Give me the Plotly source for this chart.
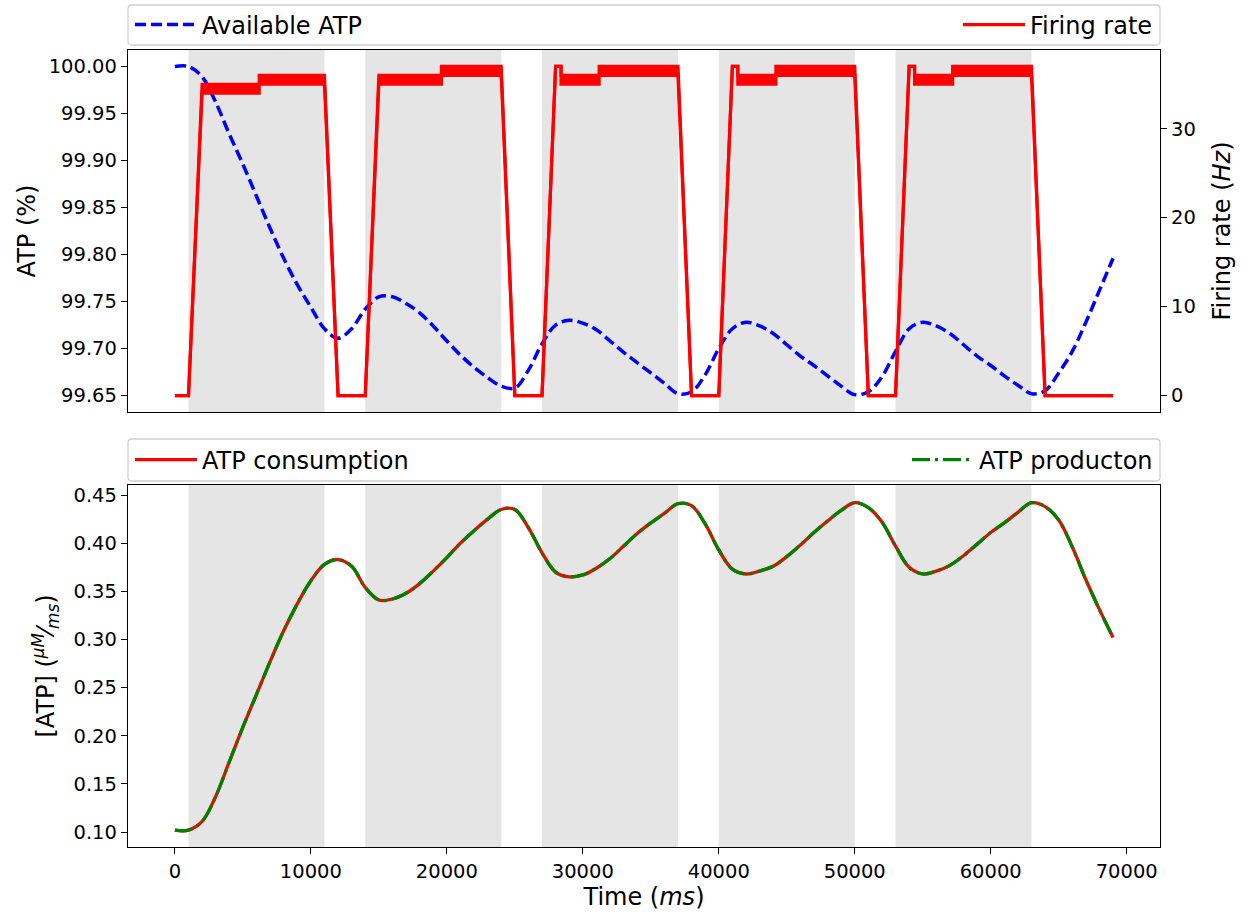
import plotly.graph_objects as go

# ---------------- data ----------------
time_ms = [0, 1000, 2000, 3000, 4000, 5000, 6000, 7000, 8000, 9000,
           10000, 11000, 12000, 13000, 14000, 15000, 16000, 17000, 18000, 19000,
           20000, 21000, 22000, 23000, 24000, 25000, 26000, 27000, 28000, 29000,
           30000, 31000, 32000, 33000, 34000, 35000, 36000, 37000, 38000, 39000,
           40000, 41000, 42000, 43000, 44000, 45000, 46000, 47000, 48000, 49000,
           50000, 51000, 52000, 53000, 54000, 55000, 56000, 57000, 58000, 59000,
           60000, 61000, 62000, 63000, 64000, 65000, 66000, 67000, 68000, 69000]

available_atp = [100.000, 100.000, 99.989, 99.962, 99.928, 99.896, 99.862, 99.828, 99.796, 99.768,
                 99.744, 99.721, 99.711, 99.721, 99.742, 99.755, 99.755, 99.748, 99.738, 99.724,
                 99.708, 99.693, 99.680, 99.669, 99.660, 99.658, 99.677, 99.705, 99.725, 99.730,
                 99.727, 99.720, 99.708, 99.696, 99.685, 99.674, 99.663, 99.652, 99.654, 99.672,
                 99.700, 99.721, 99.728, 99.724, 99.716, 99.704, 99.692, 99.682, 99.671, 99.660,
                 99.651, 99.654, 99.670, 99.697, 99.721, 99.728, 99.724, 99.716, 99.704, 99.692,
                 99.682, 99.671, 99.661, 99.652, 99.655, 99.674, 99.697, 99.728, 99.762, 99.796]

atp_consumption = [0.102, 0.102, 0.111, 0.137, 0.173, 0.209, 0.243, 0.277, 0.309, 0.337,
                   0.361, 0.378, 0.383, 0.376, 0.354, 0.341, 0.342, 0.348, 0.358, 0.371,
                   0.385, 0.400, 0.413, 0.425, 0.435, 0.435, 0.416, 0.390, 0.370, 0.365,
                   0.367, 0.374, 0.384, 0.397, 0.410, 0.421, 0.431, 0.441, 0.439, 0.420,
                   0.393, 0.373, 0.368, 0.371, 0.376, 0.386, 0.398, 0.411, 0.423, 0.434,
                   0.442, 0.437, 0.422, 0.397, 0.375, 0.368, 0.371, 0.377, 0.387, 0.399,
                   0.411, 0.421, 0.432, 0.442, 0.438, 0.424, 0.396, 0.362, 0.331, 0.302]

atp_production = [0.102, 0.102, 0.111, 0.137, 0.173, 0.209, 0.243, 0.277, 0.309, 0.337,
                  0.361, 0.378, 0.383, 0.376, 0.354, 0.341, 0.342, 0.348, 0.358, 0.371,
                  0.385, 0.400, 0.413, 0.425, 0.435, 0.435, 0.416, 0.390, 0.370, 0.365,
                  0.367, 0.374, 0.384, 0.397, 0.410, 0.421, 0.431, 0.441, 0.439, 0.420,
                  0.393, 0.373, 0.368, 0.371, 0.376, 0.386, 0.398, 0.411, 0.423, 0.434,
                  0.442, 0.437, 0.422, 0.397, 0.375, 0.368, 0.371, 0.377, 0.387, 0.399,
                  0.411, 0.421, 0.432, 0.442, 0.438, 0.424, 0.396, 0.362, 0.331, 0.302]

# firing rate: at each point the rate flickers between a low and a high value
fr_time = [0, 1000, 2000, 6200, 6200, 11000, 12000, 14000, 15000, 19600, 19600, 24000, 25000,
           27000, 28000, 28400, 28400, 31200, 31200, 37000, 38000,
           40000, 41000, 41400, 41400, 44200, 44200, 50000, 51000,
           53000, 54000, 54400, 54400, 57200, 57200, 63000, 64000, 69000]
fr_low = [0, 0, 34, 34, 35, 35, 0, 0, 35, 35, 36, 36, 0,
          0, 37, 37, 35, 35, 36, 36, 0,
          0, 37, 37, 35, 35, 36, 36, 0,
          0, 37, 37, 35, 35, 36, 36, 0, 0]
fr_high = [0, 0, 35, 35, 36, 36, 0, 0, 36, 36, 37, 37, 0,
           0, 37, 37, 36, 36, 37, 37, 0,
           0, 37, 37, 36, 36, 37, 37, 0,
           0, 37, 37, 36, 36, 37, 37, 0, 0]

stim_start = [1000, 14000, 27000, 40000, 53000]
stim_end = [11000, 24000, 37000, 50000, 63000]

x_ticks = [0, 10000, 20000, 30000, 40000, 50000, 60000, 70000]
atp_ticks = [99.65, 99.70, 99.75, 99.80, 99.85, 99.90, 99.95, 100.00]
fr_ticks = [0, 10, 20, 30]
flux_ticks = [0.10, 0.15, 0.20, 0.25, 0.30, 0.35, 0.40, 0.45]

# ---------------- styling / layout ----------------
FONT = "DejaVu Sans"
W, H = 1253, 916
L, R, T, B = 128, 1160, 50, 847          # plot area in pixels
pw, ph = R - L, B - T

def py2paper(y):
    return (B - y) / ph

def px2paper(x):
    return (x - L) / pw

top_dom = [py2paper(412), 1.0]
bot_dom = [0.0, py2paper(485)]

fig = go.Figure()

fig.add_trace(go.Scatter(x=time_ms, y=available_atp, xaxis="x", yaxis="y",
                         mode="lines", name="Available ATP", legend="legend",
                         line=dict(color="blue", width=3.5, dash="11px,5px",
                                   shape="spline", smoothing=1.0)))
fig.add_trace(go.Scatter(x=fr_time, y=fr_low, xaxis="x", yaxis="y2",
                         mode="lines", name="Firing rate", legend="legend2",
                         line=dict(color="red", width=3.2)))
fig.add_trace(go.Scatter(x=fr_time, y=fr_high, xaxis="x", yaxis="y2",
                         mode="lines", showlegend=False, hoverinfo="skip",
                         fill="tonexty", fillcolor="red",
                         line=dict(color="red", width=3.2)))

fig.add_trace(go.Scatter(x=time_ms, y=atp_consumption, xaxis="x2", yaxis="y3",
                         mode="lines", name="ATP consumption", legend="legend3",
                         line=dict(color="red", width=3.3, shape="spline", smoothing=1.0)))
fig.add_trace(go.Scatter(x=time_ms, y=atp_production, xaxis="x2", yaxis="y3",
                         mode="lines", name="ATP producton", legend="legend4",
                         line=dict(color="green", width=3.3, dash="18px,5px,3px,5px",
                                   shape="spline", smoothing=1.0)))

shapes = []
for s, e in zip(stim_start, stim_end):
    shapes.append(dict(type="rect", xref="x", yref="y domain", x0=s, x1=e, y0=0, y1=1,
                       fillcolor="#e5e5e5", line=dict(width=0), layer="below"))
    shapes.append(dict(type="rect", xref="x2", yref="y3 domain", x0=s, x1=e, y0=0, y1=1,
                       fillcolor="#e5e5e5", line=dict(width=0), layer="below"))

def rounded_box(x0p, x1p, y0p, y1p, r=4):
    # pixel coordinates -> paper path with rounded corners
    X0, X1 = px2paper(x0p), px2paper(x1p)
    Y0, Y1 = py2paper(y1p), py2paper(y0p)
    rx, ry = r / pw, r / ph
    return (f"M{X0+rx},{Y1} L{X1-rx},{Y1} Q{X1},{Y1} {X1},{Y1-ry} "
            f"L{X1},{Y0+ry} Q{X1},{Y0} {X1-rx},{Y0} L{X0+rx},{Y0} "
            f"Q{X0},{Y0} {X0},{Y0+ry} L{X0},{Y1-ry} Q{X0},{Y1} {X0+rx},{Y1} Z")

for (y0p, y1p) in [(5, 45), (439, 481)]:
    shapes.append(dict(type="path", xref="paper", yref="paper",
                       path=rounded_box(L, R, y0p, y1p),
                       fillcolor="rgba(255,255,255,0.8)",
                       line=dict(color="#d0d0d0", width=1.3), layer="above"))

tickfont = dict(family=FONT, size=19.5, color="black")
titlefont = dict(family=FONT, size=24, color="black")
axis_common = dict(showline=True, linecolor="black", linewidth=1.3,
                   ticks="outside", ticklen=6, tickwidth=1.3, tickcolor="black",
                   showgrid=False, zeroline=False, tickfont=tickfont)

xr = [-3450, 72450]

legend_common = dict(bgcolor="rgba(0,0,0,0)", borderwidth=0,
                     font=dict(family=FONT, size=24, color="black"),
                     orientation="h", yanchor="middle", itemwidth=62)

fig.update_layout(
    width=W, height=H,
    margin=dict(l=L, r=W - R, t=T, b=H - B, pad=0, autoexpand=False),
    paper_bgcolor="white", plot_bgcolor="white",
    font=dict(family=FONT, color="black"),
    shapes=shapes,
    xaxis=dict(domain=[0, 1], anchor="y", range=xr, matches="x2",
               showticklabels=False, mirror=True,
               **{k: v for k, v in axis_common.items() if k != "ticks"}, ticks=""),
    yaxis=dict(domain=top_dom, anchor="x", range=[99.6325, 100.0175],
               tickvals=atp_ticks, tickformat=".2f", mirror=True,
               title=dict(text="ATP (%)", font=titlefont, standoff=6), **axis_common),
    yaxis2=dict(overlaying="y", anchor="x", side="right", range=[-1.85, 38.85],
                tickvals=fr_ticks,
                title=dict(text="Firing rate (<i>Hz</i>)", font=titlefont, standoff=18),
                **axis_common),
    xaxis2=dict(domain=[0, 1], anchor="y3", range=xr, tickvals=x_ticks, tickformat="d",
                mirror=True,
                title=dict(text="Time (<i>ms</i>)", font=titlefont, standoff=6),
                **axis_common),
    yaxis3=dict(domain=bot_dom, anchor="x2", range=[0.0845, 0.4604],
                tickvals=flux_ticks, tickformat=".2f", mirror=True,
                title=dict(text="[ATP] (<sup><i>μM</i></sup>⁄<sub><i>ms</i></sub>)",
                           font=titlefont, standoff=12), **axis_common),
    legend=dict(x=px2paper(130), xanchor="left", y=py2paper(25), **legend_common),
    legend2=dict(x=px2paper(1158), xanchor="right", y=py2paper(25), **legend_common),
    legend3=dict(x=px2paper(130), xanchor="left", y=py2paper(460), **legend_common),
    legend4=dict(x=px2paper(1158), xanchor="right", y=py2paper(460), **legend_common),
    showlegend=True,
)

fig.write_html("out.html")
